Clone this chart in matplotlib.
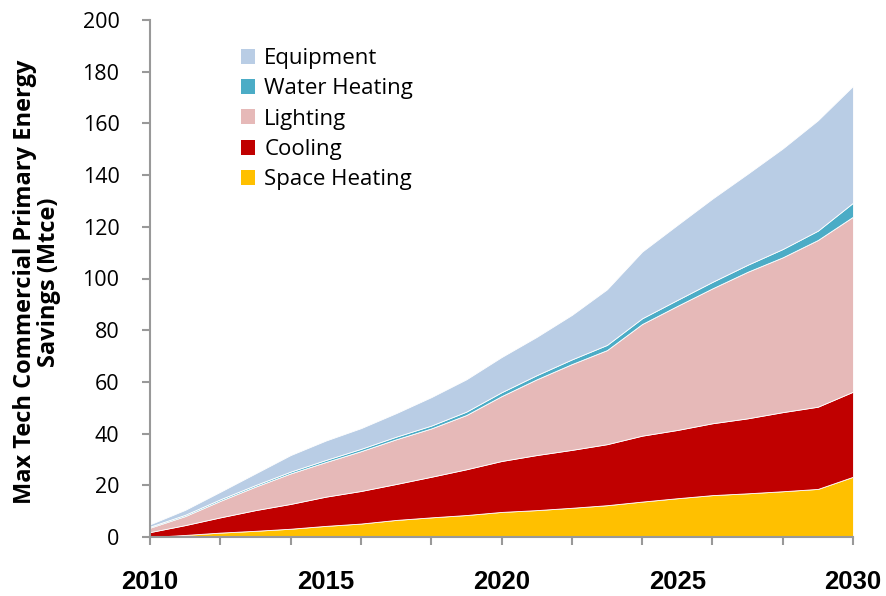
import matplotlib
matplotlib.use("Agg")
import matplotlib.pyplot as plt
from matplotlib.patches import Patch

years = list(range(2010, 2031))
space_heating = [0.0, 0.8, 1.7, 2.4, 3.2, 4.3, 5.2, 6.6, 7.6, 8.5, 9.7, 10.4, 11.3, 12.3, 13.7, 15.0, 16.2, 16.9, 17.7, 18.6, 23.3]
cooling = [1.9, 3.8, 5.9, 8.0, 9.6, 11.3, 12.6, 13.9, 15.7, 17.7, 19.7, 21.3, 22.4, 23.6, 25.5, 26.4, 27.8, 29.0, 30.6, 31.8, 32.9]
lighting = [1.7, 3.5, 6.4, 9.1, 11.8, 13.4, 15.4, 17.3, 18.7, 21.0, 25.1, 29.3, 33.2, 36.4, 43.2, 48.0, 52.2, 56.7, 59.9, 64.5, 67.7]
water_heating = [0.4, 0.5, 0.6, 0.6, 0.7, 0.8, 0.9, 1.0, 1.1, 1.3, 1.5, 1.6, 1.8, 2.0, 2.2, 2.3, 2.5, 2.7, 3.2, 3.6, 5.4]
equipment = [0.9, 1.9, 2.9, 4.5, 6.4, 7.5, 8.0, 9.1, 11.0, 12.5, 13.6, 14.8, 17.2, 21.5, 25.8, 29.0, 32.2, 35.2, 38.9, 42.7, 45.2]

series_names = ["Space Heating", "Cooling", "Lighting", "Water Heating", "Equipment"]
colors = ["#FFC000", "#C00000", "#E6B9B8", "#4BACC6", "#B9CDE5"]
label_years = [2010, 2015, 2020, 2025, 2030]
y_ticks = list(range(0, 201, 20))

fig = plt.figure(figsize=(8.86, 5.96), dpi=100)
ax = fig.add_axes([150/886, 1-537/596, (853-150)/886, (537-20)/596])

ax.stackplot(years, space_heating, cooling, lighting, water_heating, equipment,
             colors=colors, edgecolor="white", linewidth=0.6)

ax.set_xlim(2010, 2030)
ax.set_ylim(0, 200)
ax.set_yticks(y_ticks)
ax.set_xticks(range(2010, 2031, 2))
ax.set_xticklabels([])

for s in ["top", "right"]:
    ax.spines[s].set_visible(False)
for s in ["left", "bottom"]:
    ax.spines[s].set_color("#999999")
    ax.spines[s].set_linewidth(1.5)
ax.tick_params(axis="y", direction="out", length=6, width=1.5, color="#999999",
               labelsize=15.5, pad=16)
ax.tick_params(axis="x", direction="out", length=6, width=1.5, color="#999999")
for t in ax.get_yticklabels():
    t.set_family(["Open Sans", "DejaVu Sans"])

sec = ax.secondary_xaxis("bottom")
sec.set_xticks(label_years)
sec.set_xticklabels([str(y) for y in label_years])
sec.tick_params(axis="x", length=0, pad=24, labelsize=18.5)
sec.spines["bottom"].set_visible(False)
for t in sec.get_xticklabels():
    t.set_fontweight("bold")
    t.set_family(["Liberation Sans Narrow", "Liberation Sans", "DejaVu Sans"])

fig.text(37/886, 1-282/596, "Max Tech Commercial Primary Energy\nSavings (Mtce)",
         rotation=90, ha="center", va="center", fontsize=17, fontweight="bold",
         family=["Open Sans", "DejaVu Sans"], linespacing=1.05)

handles = [Patch(facecolor=c, edgecolor="none") for c in colors[::-1]]
leg = ax.legend(handles, series_names[::-1], loc="upper left",
                bbox_to_anchor=((241-150)/703, 1-(48-20)/517), frameon=False,
                handlelength=0.65, handleheight=0.65,
                handletextpad=0.4, labelspacing=0.42, borderpad=0, borderaxespad=0,
                prop={"family": ["Open Sans", "DejaVu Sans"], "size": 16})

fig.savefig("out.png", dpi=100)
